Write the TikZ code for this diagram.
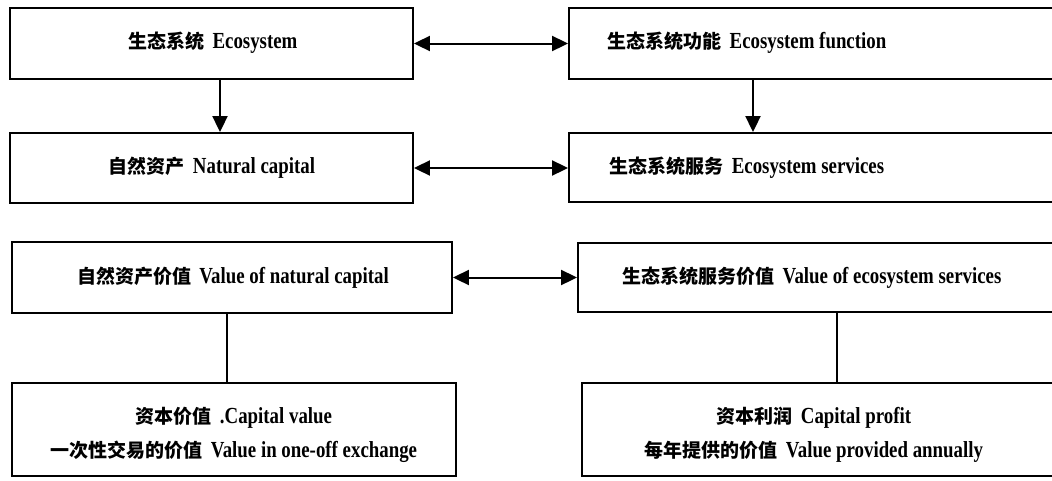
\documentclass[tikz,border=0pt]{standalone}
\usepackage{fontspec}
\setmainfont{Liberation Serif}[FakeStretch=0.82]
\newfontfamily\cjk{Noto Sans CJK SC}
\usetikzlibrary{arrows.meta}
\newcommand\zhtxt[1]{{\cjk\bfseries\fontsize{19}{34}\selectfont #1}}
\begin{document}
\begin{tikzpicture}[x=1pt,y=-1pt,
  box/.style={draw, line width=1.9pt, inner sep=0pt},
  tip/.tip={Triangle[length=16pt,width=15pt]},
  arr/.style={line width=2pt, -tip},
  darr/.style={line width=2pt, tip-tip},
  plain/.style={line width=1.9pt},
  lbl/.style={align=center, inner sep=0pt, font=\bfseries\fontsize{23}{34}\selectfont}]
\useasboundingbox (0,0) rectangle (1052,480);
\clip (0,0) rectangle (1052,480);
% boxes
\node[box, minimum width=403pt, minimum height=71pt] (b1) at (211.5,43.5) {};
\node[box, minimum width=501pt, minimum height=71pt] (b2) at (819.5,43.5) {};
\node[box, minimum width=403pt, minimum height=70pt] (b3) at (211.5,168) {};
\node[box, minimum width=501pt, minimum height=69pt] (b4) at (819.5,167.5) {};
\node[box, minimum width=440pt, minimum height=71pt] (b5) at (232,277.5) {};
\node[box, minimum width=492pt, minimum height=69pt] (b6) at (824,277.5) {};
\node[box, minimum width=444pt, minimum height=93pt] (b7) at (234,429.5) {};
\node[box, minimum width=488pt, minimum height=93pt] (b8) at (826,429.5) {};
% labels
\node[lbl] (t1) at (213,43) {\zhtxt{生态系统}\hspace{8pt}Ecosystem};
\node[lbl] (t2) at (747,43) {\zhtxt{生态系统功能}\hspace{8pt}Ecosystem function};
\node[lbl] (t3) at (212,168) {\zhtxt{自然资产}\hspace{8pt}Natural capital};
\node[lbl] (t4) at (747,168) {\zhtxt{生态系统服务}\hspace{8pt}Ecosystem services};
\node[lbl] (t5) at (233,278) {\zhtxt{自然资产价值}\hspace{8pt}Value of natural capital};
\node[lbl] (t6) at (812,278) {\zhtxt{生态系统服务价值}\hspace{8pt}Value of ecosystem services};
\node[lbl] (t7) at (234,435) {\zhtxt{资本价值}\hspace{8pt}.Capital value\\\zhtxt{一次性交易的价值}\hspace{8pt}Value in one-off exchange};
\node[lbl] (t8) at (814,435) {\zhtxt{资本利润}\hspace{8pt}Capital profit\\\zhtxt{每年提供的价值}\hspace{8pt}Value provided annually};
% connector positions
\coordinate (v1) at (220,0);
\coordinate (v2) at (753,0);
\coordinate (v3) at (227,0);
\coordinate (v4) at (837,0);
% connectors
\draw[darr] (b1.east) -- (b1.east -| b2.west);
\draw[darr] (b3.east) -- (b3.east -| b4.west);
\draw[darr] (b5.east) -- (b5.east -| b6.west);
\draw[arr] (b1.south -| v1) -- (b3.north -| v1);
\draw[arr] (b2.south -| v2) -- (b4.north -| v2);
\draw[plain] (b5.south -| v3) -- (b7.north -| v3);
\draw[plain] (b6.south -| v4) -- (b8.north -| v4);
\end{tikzpicture}
\end{document}
